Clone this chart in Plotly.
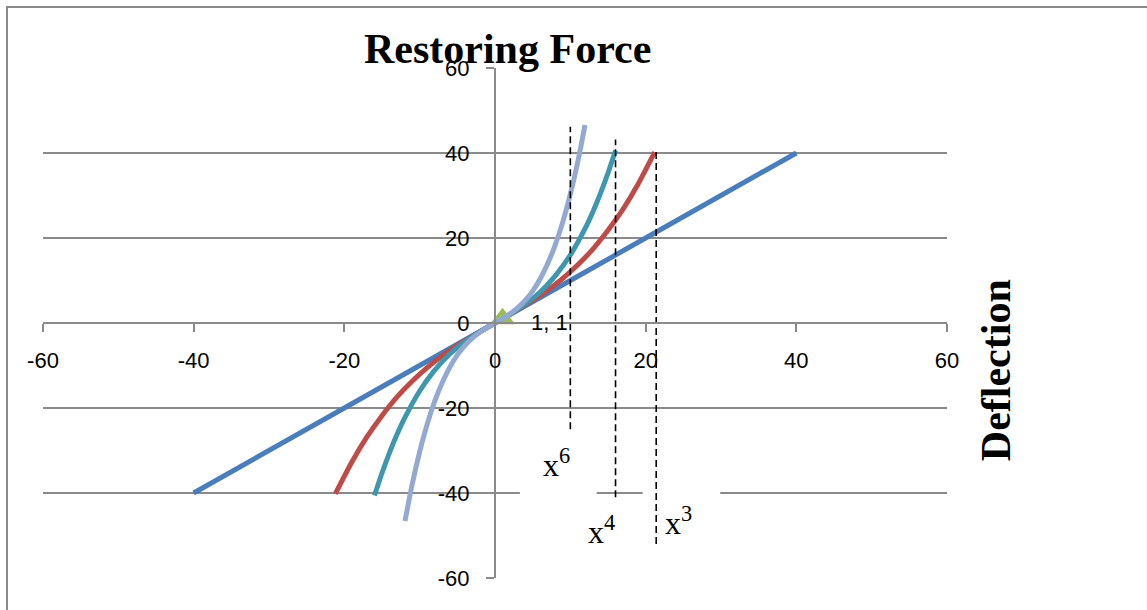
import plotly.graph_objects as go

# Restoring force vs deflection for a linear spring and three stiffening springs
lin_x = [-40, -20, 0, 20, 40]
lin_y = [-40, -20, 0, 20, 40]

x3_x = [-21.2, -19, -17, -15, -13, -11, -9, -7, -5, -3, -1, 0, 1, 3, 5, 7, 9, 11, 13, 15, 17, 19, 21.2]
x3_y = [-40.2, -32.7, -26.8, -21.8, -17.4, -13.7, -10.5, -7.7, -5.3, -3.1, -1.0, 0, 1.0, 3.1, 5.3, 7.7, 10.5, 13.7, 17.4, 21.8, 26.8, 32.7, 40.2]

x4_x = [-16, -15, -14, -13, -12, -10, -8, -6, -4, -2, 0, 2, 4, 6, 8, 10, 12, 13, 14, 15, 16]
x4_y = [-40.6, -35.3, -30.5, -26.2, -22.4, -16.0, -11.1, -7.3, -4.4, -2.05, 0, 2.05, 4.4, 7.3, 11.1, 16.0, 22.4, 26.2, 30.5, 35.3, 40.6]

x6_x = [-11.95, -11, -10, -9, -8, -7, -6, -5, -4, -3, -2, -1, 0, 1, 2, 3, 4, 5, 6, 7, 8, 9, 10, 11, 11.95]
x6_y = [-46.6, -38.0, -30.3, -23.8, -18.4, -14.0, -10.4, -7.5, -5.3, -3.55, -2.16, -1.02, 0,
        1.02, 2.16, 3.55, 5.3, 7.5, 10.4, 14.0, 18.4, 23.8, 30.3, 38.0, 46.6]

point_x = [1]
point_y = [1]

# vertical guide lines: x position, bottom, top
guide_x = [10, 16, 21.4]
guide_bottom = [-25, -41, -52]
guide_top = [46.2, 43.2, 40.3]

ticks = [-60, -40, -20, 0, 20, 40, 60]

GRID = "#8a8a8a"
TICK_FONT = dict(family="Liberation Sans", size=22, color="black")
SERIF = "Liberation Serif"

fig = go.Figure()


def add_curve(xs, ys, col):
    fig.add_trace(go.Scatter(x=xs, y=ys, mode="lines",
                             line=dict(color=col, width=5, shape="spline", smoothing=0.6)))


add_curve(lin_x, lin_y, "#4A7EBB")
add_curve(x3_x, x3_y, "#BE4B48")
add_curve(x4_x, x4_y, "#3E97AF")

# the (1, 1) reference point
fig.add_trace(go.Scatter(x=point_x, y=point_y, mode="markers",
                         marker=dict(symbol="triangle-up", size=22, color="#9BBB59")))

add_curve(x6_x, x6_y, "#93A9D1")

for gx, gb, gt in zip(guide_x, guide_bottom, guide_top):
    fig.add_trace(go.Scatter(x=[gx, gx], y=[gb, gt], mode="lines",
                             line=dict(color="black", width=1.6, dash="7px,4px")))

# white text-box backgrounds behind the exponent labels
fig.add_shape(type="rect", x0=3.3, x1=13.5, y0=-44, y1=-25.3, xref="x", yref="y",
              fillcolor="white", line_width=0, layer="between")
fig.add_shape(type="rect", x0=19.6, x1=29.9, y0=-50, y1=-37, xref="x", yref="y",
              fillcolor="white", line_width=0, layer="between")

# chart frame
fig.add_shape(type="rect", xref="paper", yref="paper", x0=-0.0398, x1=1.3, y0=-0.2, y1=1.1196,
              line=dict(color=GRID, width=2), fillcolor="rgba(0,0,0,0)", layer="above")

fig.add_annotation(x=point_x[0], y=point_y[0], xref="x", yref="y",
                   text=f"{point_x[0]}, {point_y[0]}", showarrow=False,
                   xanchor="left", yanchor="middle", xshift=26, yshift=-4, font=TICK_FONT)

labels = [("x<sup>6</sup>", 8.1, -32.9), ("x<sup>4</sup>", 14.2, -48.7), ("x<sup>3</sup>", 24.3, -46.6)]
for txt, lx, ly in labels:
    fig.add_annotation(x=lx, y=ly, xref="x", yref="y", text=txt, showarrow=False,
                       xanchor="center", yanchor="middle",
                       font=dict(family=SERIF, size=32, color="black"))

fig.add_annotation(x=0.5135, y=1.038, xref="paper", yref="paper", text="<b>Restoring Force</b>",
                   showarrow=False, xanchor="center", yanchor="middle",
                   font=dict(family=SERIF, size=42, color="black"))
fig.add_annotation(x=1.0545, y=0.408, xref="paper", yref="paper", text="<b>Deflection</b>",
                   showarrow=False, textangle=-90, xanchor="center", yanchor="middle",
                   font=dict(family=SERIF, size=42, color="black"))

fig.update_layout(
    width=1147, height=610,
    margin=dict(l=43, r=200, t=68, b=32),
    paper_bgcolor="white", plot_bgcolor="white",
    showlegend=False, hovermode=False,
    xaxis=dict(range=[-60, 60], anchor="free", position=0.5, side="bottom",
               showline=True, linecolor=GRID, linewidth=2,
               ticks="outside", ticklen=8, tickwidth=2, tickcolor=GRID,
               tickvals=ticks, ticktext=[str(t) for t in ticks], tickfont=TICK_FONT,
               ticklabelstandoff=10, showgrid=False, zeroline=False),
    yaxis=dict(range=[-60, 60], anchor="free", position=0.5, side="left",
               showline=True, linecolor=GRID, linewidth=2,
               ticks="outside", ticklen=8, tickwidth=2, tickcolor=GRID,
               tickvals=ticks, ticktext=[str(t) for t in ticks], tickfont=TICK_FONT,
               ticklabelstandoff=12, showgrid=True, gridcolor=GRID, gridwidth=2, zeroline=False),
)

fig.write_html("out.html")
